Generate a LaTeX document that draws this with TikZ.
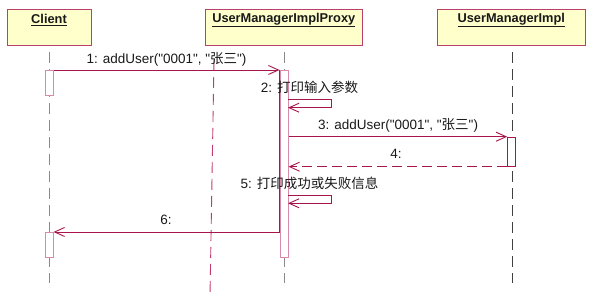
\documentclass[tikz,border=0pt]{standalone}
\usepackage{fontspec}
\setmainfont{Liberation Sans}[Ligatures=TeXOff]
\newfontfamily\cjk{Noto Sans CJK SC}
\usetikzlibrary{arrows.meta}
\definecolor{boxfill}{HTML}{FFFFCC}
\definecolor{boxline}{HTML}{B8406A}
\definecolor{msgcol}{HTML}{A8154C}
\definecolor{actline}{HTML}{D98AAA}
\definecolor{lifecol}{HTML}{8A8A8A}
\definecolor{lifedark}{HTML}{404040}
\definecolor{straycol}{HTML}{C23A72}
\tikzset{
  objbox/.style={draw=boxline, fill=boxfill, line width=0.9pt, rectangle, inner sep=0pt},
  objname/.style={font=\fontsize{12.8}{14}\selectfont\bfseries, inner sep=0pt, text=black!90},
  actbox/.style={draw=actline, fill=white, line width=1pt, rectangle, inner sep=0pt, minimum width=8pt, anchor=north},
  life/.style={draw=lifecol, line width=0.9pt, dash pattern=on 11pt off 6pt},
  msg/.style={draw=msgcol, line width=0.9pt, -{Straight Barb[length=10pt,width=9pt,line width=0.9pt]}},
  retmsg/.style={msg, dash pattern=on 10pt off 5pt},
  lbl/.style={font=\fontsize{13.5}{15}\selectfont, inner sep=0pt, text=black!90},
  stray/.style={draw=straycol, line width=0.9pt, dash pattern=on 11pt off 6pt}
}
\begin{document}
\begin{tikzpicture}[x=1pt,y=-1pt]
\useasboundingbox (0,0) rectangle (594,296);
% object boxes
\node[objbox, minimum width=84pt, minimum height=36pt] (client) at (49,27) {};
\node[objbox, minimum width=156.5pt, minimum height=36pt] (proxy) at (283.75,27) {};
\node[objbox, minimum width=147.3pt, minimum height=36pt] (impl) at (511.3,27) {};
\node[objname] (clientname) at (49,20) {\underline{Client}};
\node[objname] (proxyname) at (283.75,20) {\underline{UserManagerImplProxy}};
\node[objname] (implname) at (511.3,20) {\underline{UserManagerImpl}};
% lifelines
\coordinate (cl0) at (49,52); \coordinate (cl1) at (49,283);
\coordinate (pl0) at (284,52); \coordinate (pl1) at (284,283);
\coordinate (il0) at (512,52); \coordinate (il1) at (512,283);
\draw[life] (cl0) -- (cl1);
\draw[life] (pl0) -- (pl1);
\draw[life, draw=lifedark] (il0) -- (il1);
% stray dashed line
\coordinate (st0) at (214,60); \coordinate (st1) at (210,296);
\draw[stray] (st0) -- (st1);
% activations
\node[actbox, minimum height=25pt] (ca1) at (49,70) {};
\node[actbox, minimum height=187pt] (pa) at (284,70) {};
\node[actbox, minimum height=29pt, draw=msgcol] (ia) at (511.7,136.7) {};
\node[actbox, minimum height=25pt] (ca2) at (49,232) {};
\draw[msgcol, line width=0.9pt] (pa.north west) -- ([yshift=-162]pa.north west);
% messages
\draw[msg] (ca1.north east) -- (pa.north west);
\node[lbl] (l1) at (166.5,59) {1: addUser("0001", "{\cjk 张三}")};
\coordinate (s2a) at (288,99.3); \coordinate (s2r) at (331.7,103); \coordinate (s2b) at (288,107.7);
\draw[msg] (s2a) -| (s2r) |- (s2b);
\node[lbl] (l2) at (309.5,87) {2: {\cjk 打印输入参数}};
\draw[msg] (pa.east |- ia.north) -- (ia.north west);
\node[lbl] (l3) at (398,125) {3: addUser("0001", "{\cjk 张三}")};
\draw[retmsg] (ia.south west) -- (pa.east |- ia.south);
\node[lbl] (l4) at (396,154) {4:};
\coordinate (s5a) at (288,195); \coordinate (s5r) at (331.7,199); \coordinate (s5b) at (288,203.3);
\draw[msg] (s5a) -| (s5r) |- (s5b);
\node[lbl] (l5) at (309.5,183) {5: {\cjk 打印成功或失败信息}};
\draw[msg] (pa.west |- ca2.north) -- (ca2.north east);
\node[lbl] (l6) at (166,220) {6:};
\end{tikzpicture}
\end{document}
